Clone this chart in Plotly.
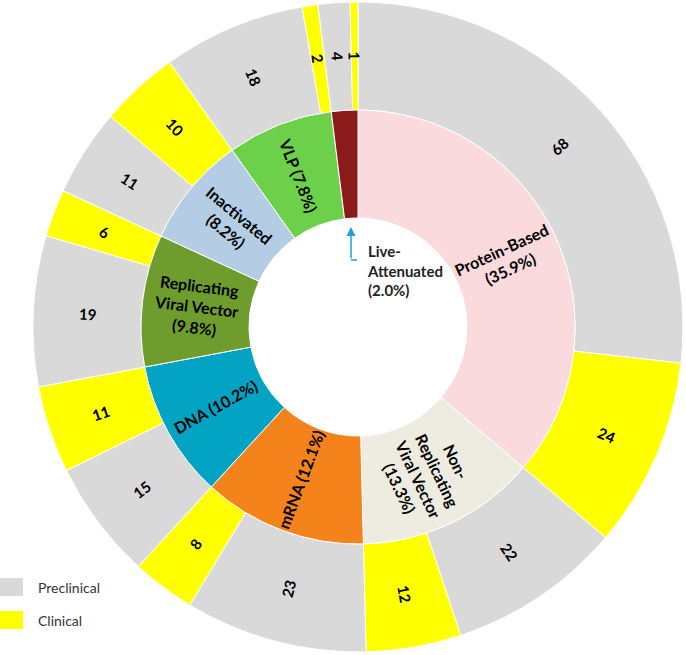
import math
import plotly.graph_objects as go

# ---------------- data ----------------
categories = ["Protein-Based", "Non-Replicating Viral Vector", "mRNA", "DNA",
              "Replicating Viral Vector", "Inactivated", "VLP", "Live-Attenuated"]
display_names = ["Protein-Based<br>", "Non-<br>Replicating<br>Viral Vector<br>", "mRNA ", "DNA ",
                 "Replicating<br>Viral Vector<br>", "Inactivated<br>", "VLP ", ""]
percentages = ["35.9%", "13.3%", "12.1%", "10.2%", "9.8%", "8.2%", "7.8%", "2.0%"]
preclinical = [68, 22, 23, 15, 19, 11, 18, 4]
clinical = [24, 12, 8, 11, 6, 10, 2, 1]
stages = ["Preclinical", "Clinical"]

inner_colors = ["#FADADD", "#EEECE1", "#F5831C", "#02A3C3",
                "#6F9D2D", "#B4CDE5", "#6CD04A", "#8B1A1A"]
stage_colors = {"Preclinical": "#D9D9D9", "Clinical": "#FFFF00"}

W, H = 686, 655
CX, CY = 358, 327
R_OUT, R_MID, R_IN = 325, 217, 109


def px(x):
    return x / W


def py(y):
    return 1 - y / H


FONT = "Lato, 'Open Sans', sans-serif"

inner_vals = [p + c for p, c in zip(preclinical, clinical)]

outer_labels, outer_vals, outer_colors = [], [], []
for cat, p, c in zip(categories, preclinical, clinical):
    for stage, v in zip(stages, (p, c)):
        outer_labels.append(f"{cat} - {stage}")
        outer_vals.append(v)
        outer_colors.append(stage_colors[stage])

fig = go.Figure()

fig.add_trace(go.Pie(
    labels=outer_labels, values=outer_vals, sort=False, direction="clockwise",
    hole=R_MID / R_OUT, textinfo="none",
    marker=dict(colors=outer_colors, line=dict(color="white", width=1)),
    domain=dict(x=[px(CX - R_OUT), px(CX + R_OUT)], y=[py(CY + R_OUT), py(CY - R_OUT)]),
    showlegend=False, hoverinfo="label+value",
))

fig.add_trace(go.Pie(
    labels=categories, values=inner_vals, sort=False, direction="clockwise",
    hole=R_IN / R_MID, textinfo="none",
    marker=dict(colors=inner_colors, line=dict(color="white", width=1)),
    domain=dict(x=[px(CX - R_MID), px(CX + R_MID)], y=[py(CY + R_MID), py(CY - R_MID)]),
    showlegend=False, hoverinfo="label+value",
))


def radial_label(values, texts, r, size):
    total = sum(values)
    cum = 0
    for v, t in zip(values, texts):
        mid = (cum + v / 2) / total * 360.0
        cum += v
        if not t:
            continue
        a = mid - 90
        if a > 90:
            a -= 180
        if a <= -90:
            a += 180
        th = math.radians(mid)
        x = CX + r * math.sin(th)
        y = CY - r * math.cos(th)
        fig.add_annotation(x=px(x), y=py(y), xref="paper", yref="paper",
                           xanchor="center", yanchor="middle", text=t, textangle=a,
                           showarrow=False, align="center",
                           font=dict(family=FONT, size=size, color="black"))


inner_text = ["" if n == "" else f"<b>{n}({p})</b>" for n, p in zip(display_names, percentages)]
outer_text = [f"<b>{v}</b>" for v in outer_vals]
radial_label(inner_vals, inner_text, (R_IN + R_MID) / 2, 16)
radial_label(outer_vals, outer_text, (R_MID + R_OUT) / 2, 15)

# Live-attenuated callout
fig.add_annotation(
    x=px(365), y=py(270), xref="paper", yref="paper", xanchor="left", yanchor="middle",
    text="<b>Live-<br>Attenuated<br>(" + percentages[-1] + ")</b>", showarrow=False, align="left",
    font=dict(family=FONT, size=15, color="#222222"),
)
fig.add_annotation(
    x=px(351), y=py(227), xref="paper", yref="paper", axref="pixel", ayref="pixel",
    ax=0, ay=33, text="", showarrow=True, arrowhead=2, arrowsize=1.2, arrowwidth=1.5,
    arrowcolor="#1E9FE0",
)
fig.add_shape(type="line", xref="paper", yref="paper",
              x0=px(351), y0=py(260), x1=px(357), y1=py(260),
              line=dict(color="#1E9FE0", width=1.5))

# legend
for i, stage in enumerate(stages):
    y0 = 578 + i * 33
    fig.add_shape(type="rect", xref="paper", yref="paper",
                  x0=px(0), x1=px(23), y0=py(y0 + 18), y1=py(y0),
                  fillcolor=stage_colors[stage], line=dict(width=0))
    fig.add_annotation(x=px(36), y=py(y0 + 9), xref="paper", yref="paper",
                       xanchor="left", yanchor="middle", text=stage, showarrow=False,
                       font=dict(family=FONT, size=14, color="#333333"))

fig.update_layout(
    width=W, height=H, margin=dict(l=0, r=0, t=0, b=0),
    paper_bgcolor="white", plot_bgcolor="white",
)

fig.write_html("out.html", config={"displayModeBar": False},
               post_script="document.body.style.margin='0';")
